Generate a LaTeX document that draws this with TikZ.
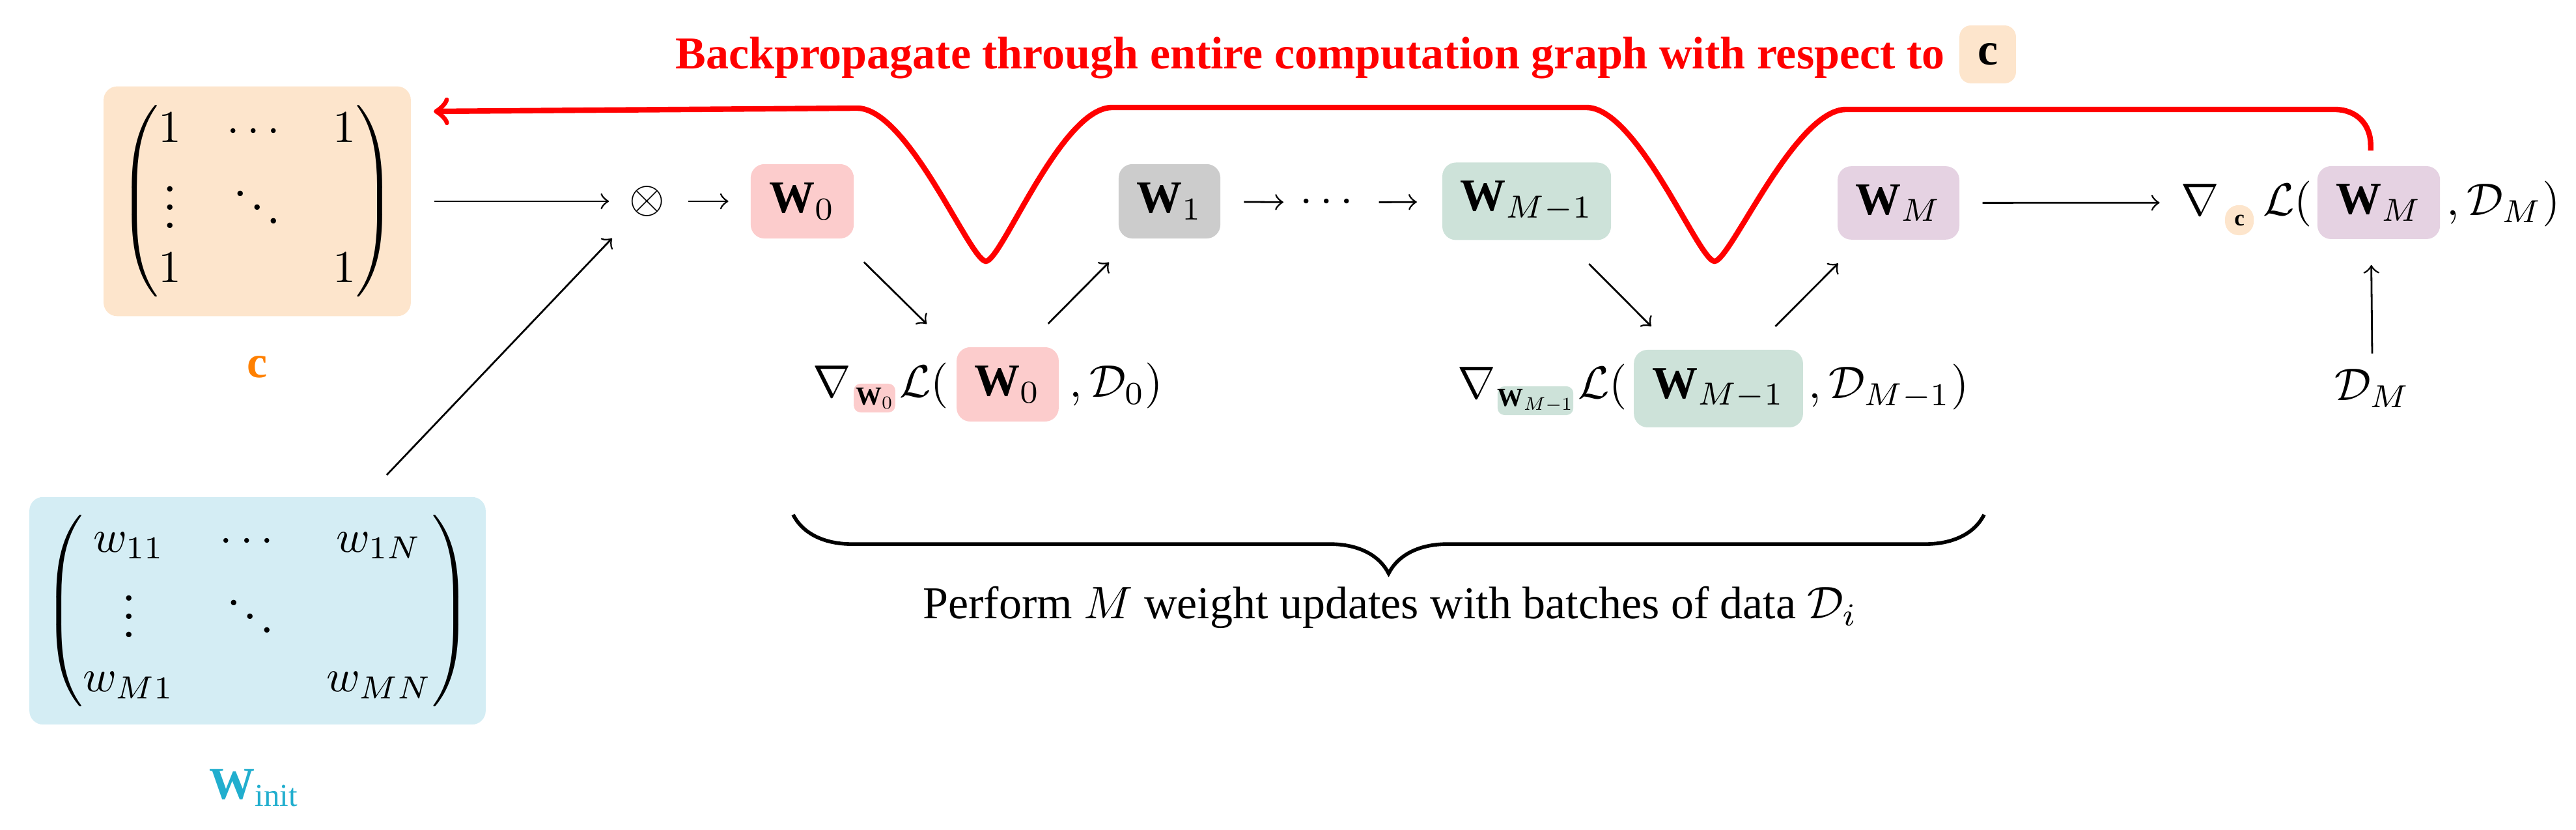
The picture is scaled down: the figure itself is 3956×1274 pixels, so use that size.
\documentclass[tikz,border=0pt]{standalone}
\usepackage{amsmath}
\usepackage{graphicx}
\usepackage[no-math]{fontspec}
\setmainfont{Liberation Serif}
\usetikzlibrary{fit,decorations.pathreplacing}
\definecolor{cpeach}{RGB}{253,229,204}
\definecolor{cblue}{RGB}{212,237,244}
\definecolor{cbluetxt}{RGB}{33,174,206}
\definecolor{cpink}{RGB}{252,204,204}
\definecolor{cgray}{RGB}{204,204,204}
\definecolor{cgreen}{RGB}{205,226,217}
\definecolor{cpurple}{RGB}{229,210,226}
\definecolor{corange}{RGB}{255,128,0}
\newcommand{\Wb}{\text{\bfseries W}}
\newcommand{\cb}{\text{\bfseries c}}
\begin{document}
\begin{tikzpicture}[x=0.142857pt, y=-0.142857pt,
  box/.style={rounded corners=3pt, inner sep=0pt, anchor=center},
  sbox/.style={rounded corners=1.5pt, inner sep=0pt, anchor=center, minimum height=6.3pt},
  txt/.style={inner sep=0pt, anchor=base west},
  arr/.style={->, line width=0.4pt},
  diagdown/.style={arr, shorten <=7.1pt, shorten >=6.7pt},
  diagup/.style={arr, shorten <=6.7pt, shorten >=7.1pt},
  bp/.style={red, line width=1.2pt, ->}]
\useasboundingbox (0,0) rectangle (3956,1274);

% title
\node[txt, text=red, font=\bfseries] (title) at (1036,106) {Backpropagate through entire computation graph with respect to};
\node[box, rounded corners=2.5pt, fill=cpeach, minimum width=12.4pt, minimum height=12.7pt] (tc) at (3052.5,83.5) {\bfseries c};

% matrices
\node[box, fill=cpeach, minimum width=67.4pt, minimum height=50.4pt] (cbox) at (395,309)
  {$\begin{pmatrix}1 & \cdots & 1\\ \vdots & \ddots & \\ 1 & & 1\end{pmatrix}$};
\node[txt, anchor=base, text=corange] (clab) at (395,580) {\bfseries c};
\node[box, fill=cblue, minimum width=100.1pt, minimum height=49.9pt] (wbox) at (395.5,937.5)
  {$\begin{pmatrix}w_{11} & \cdots & w_{1N}\\ \vdots & \ddots & \\ w_{M1} & & w_{MN}\end{pmatrix}$};
\node[txt, text=cbluetxt] (wlab) at (320,1227) {$\Wb_{\text{init}}$};

% top row
\node[circle, inner sep=0pt, minimum size=7.8pt] (ot) at (994,309) {$\otimes$};
\node[box, fill=cpink, minimum width=22.6pt, minimum height=16.3pt] (W0) at (1232,309) {$\Wb_0$};
\node[box, fill=cgray, minimum width=22.3pt, minimum height=16.3pt] (W1) at (1796,309) {$\Wb_1$};
\node[inner sep=0pt] (dots) at (2043.5,311) {$\cdots$};
\node[box, fill=cgreen, minimum width=37pt, minimum height=17pt] (Wm) at (2344.5,309) {$\Wb_{M-1}$};
\node[box, fill=cpurple, minimum width=26.7pt, minimum height=16.1pt] (WM) at (2915.5,311.5) {$\Wb_M$};

% gradient 0
\node[txt] (n0) at (1247,610) {$\nabla$};
\node[sbox, fill=cpink, minimum width=9.1pt] (s0) at (1343,611) {\scalebox{0.57}{$\Wb_0$}};
\node[txt] (l0) at (1380,610) {$\mathcal{L}($};
\node[box, fill=cpink, minimum width=22.4pt, minimum height=16.3pt] (b0) at (1547.5,590) {$\Wb_0$};
\node[txt] (e0) at (1641,610) {$,\mathcal{D}_0)$};
\node[fit=(n0)(b0)(e0), inner sep=0pt] (g0) {};

% gradient M-1
\node[txt] (n1) at (2237,612) {$\nabla$};
\node[sbox, fill=cgreen, minimum width=16.6pt] (s1) at (2358,615) {\scalebox{0.57}{$\Wb_{M-1}$}};
\node[txt] (l1) at (2422,612) {$\mathcal{L}($};
\node[box, fill=cgreen, minimum width=37.1pt, minimum height=17pt] (b1) at (2639,596.5) {$\Wb_{M-1}$};
\node[txt] (e1) at (2776,612) {$,\mathcal{D}_{M-1})$};
\node[fit=(n1)(b1)(e1), inner sep=0pt] (g1) {};

% gradient c
\node[txt] (nM) at (3348,331) {$\nabla$};
\node[box, rounded corners=3pt, fill=cpeach, minimum width=6.3pt, minimum height=6.6pt] (sM) at (3439,338) {\scalebox{0.5}{\bfseries c}};
\node[txt] (lM) at (3474,331) {$\mathcal{L}($};
\node[box, fill=cpurple, minimum width=26.9pt, minimum height=16pt] (bM) at (3653,311) {$\Wb_M$};
\node[txt] (eM) at (3756,331) {$,\mathcal{D}_M)$};
\node[fit=(nM)(bM)(eM), inner sep=0pt] (gM) {};
\node[txt] (DM) at (3584,615) {$\mathcal{D}_M$};

% brace and text
\coordinate (brL) at (1218,790);
\coordinate (brR) at (3047,790);
\draw[decorate, decoration={brace, mirror, amplitude=12.9pt}, line width=0.8pt] (brL) -- (brR);
\node[txt] (perf) at (1416,950) {Perform $M$ weight updates with batches of data $\mathcal{D}_i$};

% connectors
\draw[arr, shorten <=4.9pt, shorten >=3.1pt] (cbox) -- (ot);
\draw[arr, shorten <=6.4pt, shorten >=5.9pt] (wbox) -- (ot);
\draw[arr, shorten <=3.7pt, shorten >=4.7pt] (ot) -- (W0);
\draw[diagdown] (W0) -- (g0);
\draw[diagup] (g0) -- (W1);
\draw[arr, shorten <=5pt, shorten >=3.5pt] (W1) -- (dots);
\draw[arr, shorten <=3.7pt, shorten >=5.4pt] (dots) -- (Wm);
\draw[diagdown] (Wm) -- (g1);
\draw[diagup] (g1) -- (WM);
\draw[arr, shorten <=4.9pt, shorten >=4.3pt] (WM) -- (gM);
\draw[arr, shorten <=3.3pt, shorten >=5.3pt] (DM) -- (gM);

% backprop path
\coordinate (rtip) at (666,171);
\draw[bp, shorten <=3pt] (gM.north) -- ++(0,-30) .. controls +(0,-30) and (3620,168) .. (3585,168)
  -- (2835,168) .. controls (2756,168) and (2657,401) .. (2633,401)
  .. controls (2609,401) and (2515,165) .. (2436,165)
  -- (1708,165) .. controls (1629,165) and (1538,401) .. (1514,401)
  .. controls (1490,401) and (1395,166) .. (1316,166) -- (rtip);
\end{tikzpicture}
\end{document}
